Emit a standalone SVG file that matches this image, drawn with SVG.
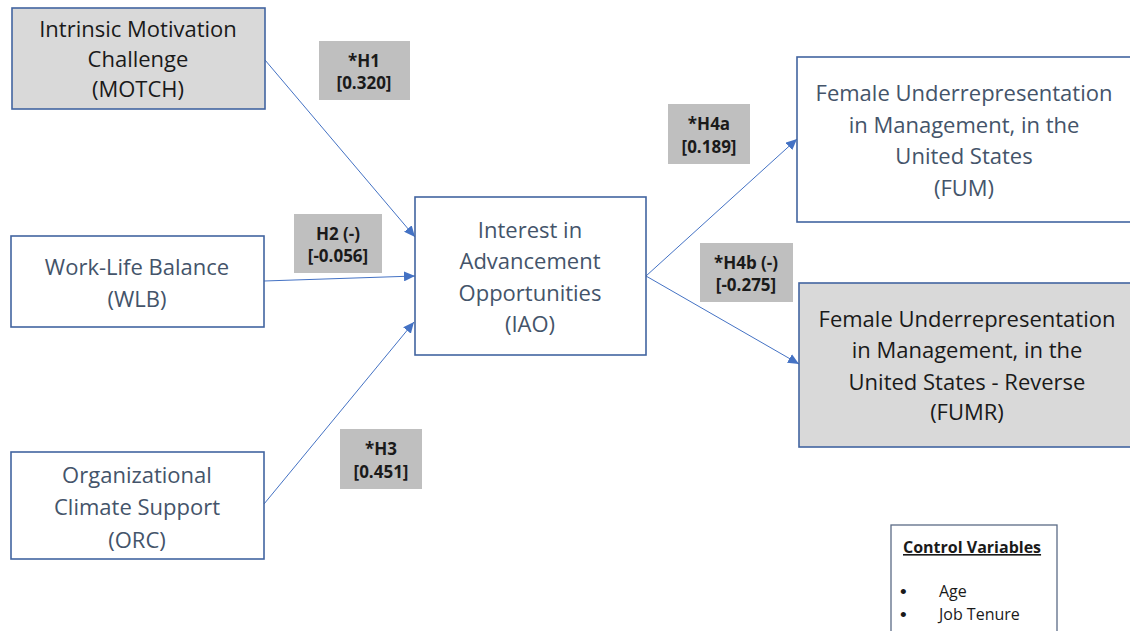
<svg xmlns="http://www.w3.org/2000/svg" width="1130" height="631" viewBox="0 0 1130 631">
<defs>
<style>
.box{fill:#ffffff;stroke:#4264a0;stroke-width:1.6}
.grey{fill:#d9d9d9}
.t{font-family:"Open Sans","Liberation Sans",sans-serif;font-size:22px;fill:#44546a;text-anchor:middle}
.dark{fill:#1a1a1a}
.lbl{fill:#bfbfbf}
.lt{font-family:"Open Sans","Liberation Sans",sans-serif;font-size:17px;font-weight:bold;fill:#1a1a1a;text-anchor:middle}
.cv{font-family:"Open Sans","Liberation Sans",sans-serif;font-size:16px;fill:#1a1a1a}
.bul{font-family:"Liberation Sans",sans-serif;font-size:19px;fill:#1a1a1a}
.conn{stroke:#4472c4;stroke-width:1;fill:none;marker-end:url(#arr)}
</style>
<marker id="arr" markerUnits="userSpaceOnUse" markerWidth="12" markerHeight="10" refX="11" refY="5" orient="auto">
<path d="M0,0 L11,5 L0,10 z" fill="#4472c4"/>
</marker>
</defs>
<rect width="1130" height="631" fill="#ffffff"/>
<g id="connectors">
<line class="conn" x1="265" y1="60" x2="415" y2="237"/>
<line class="conn" x1="264" y1="281" x2="415" y2="276"/>
<line class="conn" x1="264" y1="504" x2="414" y2="322"/>
<line class="conn" x1="646" y1="276" x2="797" y2="139"/>
<line class="conn" x1="646" y1="276" x2="799" y2="364"/>
</g>
<g id="MOTCH">
<rect class="box grey" x="12" y="8" width="253" height="101"/>
<text class="t dark" x="138" y="37">Intrinsic Motivation</text>
<text class="t dark" x="138" y="67">Challenge</text>
<text class="t dark" x="138" y="97">(MOTCH)</text>
</g>
<g id="WLB">
<rect class="box" x="11" y="236" width="253" height="91"/>
<text class="t" x="137" y="275">Work-Life Balance</text>
<text class="t" x="137" y="307">(WLB)</text>
</g>
<g id="ORC">
<rect class="box" x="11" y="452" width="253" height="107"/>
<text class="t" x="137" y="483">Organizational</text>
<text class="t" x="137" y="515">Climate Support</text>
<text class="t" x="137" y="548">(ORC)</text>
</g>
<g id="IAO">
<rect class="box" x="415" y="197" width="231" height="158"/>
<text class="t" x="530" y="238">Interest in</text>
<text class="t" x="530" y="269">Advancement</text>
<text class="t" x="530" y="301">Opportunities</text>
<text class="t" x="530" y="332">(IAO)</text>
</g>
<g id="FUM">
<rect class="box" x="797" y="57" width="345" height="165"/>
<text class="t" x="964" y="101">Female Underrepresentation</text>
<text class="t" x="964" y="133">in Management, in the</text>
<text class="t" x="964" y="164">United States</text>
<text class="t" x="964" y="196">(FUM)</text>
</g>
<g id="FUMR">
<rect class="box grey" x="799" y="283" width="345" height="164"/>
<text class="t dark" x="967" y="327">Female Underrepresentation</text>
<text class="t dark" x="967" y="358">in Management, in the</text>
<text class="t dark" x="967" y="390">United States - Reverse</text>
<text class="t dark" x="967" y="420">(FUMR)</text>
</g>
<g id="H1">
<rect class="lbl" x="319" y="41" width="91" height="59"/>
<text class="lt" x="364" y="67">*H1</text>
<text class="lt" x="364" y="89">[0.320]</text>
</g>
<g id="H2">
<rect class="lbl" x="294" y="214" width="88" height="59"/>
<text class="lt" x="338" y="240">H2 (-)</text>
<text class="lt" x="338" y="262">[-0.056]</text>
</g>
<g id="H3">
<rect class="lbl" x="340" y="429" width="82" height="60"/>
<text class="lt" x="381" y="455">*H3</text>
<text class="lt" x="381" y="478">[0.451]</text>
</g>
<g id="H4a">
<rect class="lbl" x="668" y="104" width="82" height="60"/>
<text class="lt" x="709" y="130">*H4a</text>
<text class="lt" x="709" y="153">[0.189]</text>
</g>
<g id="H4b">
<rect class="lbl" x="700" y="243" width="93" height="59"/>
<text class="lt" x="746" y="269">*H4b (-)</text>
<text class="lt" x="746" y="291">[-0.275]</text>
</g>
<g id="controls">
<rect x="891" y="525" width="166" height="120" fill="#ffffff" stroke="#5b6b86" stroke-width="1.3"/>
<text class="cv" x="903" y="553" font-weight="bold" text-decoration="underline" font-size="15">Control Variables</text>
<text class="bul" x="900" y="598">•</text>
<text class="cv" x="939" y="597">Age</text>
<text class="bul" x="900" y="621">•</text>
<text class="cv" x="939" y="620">Job Tenure</text>
</g>
</svg>
